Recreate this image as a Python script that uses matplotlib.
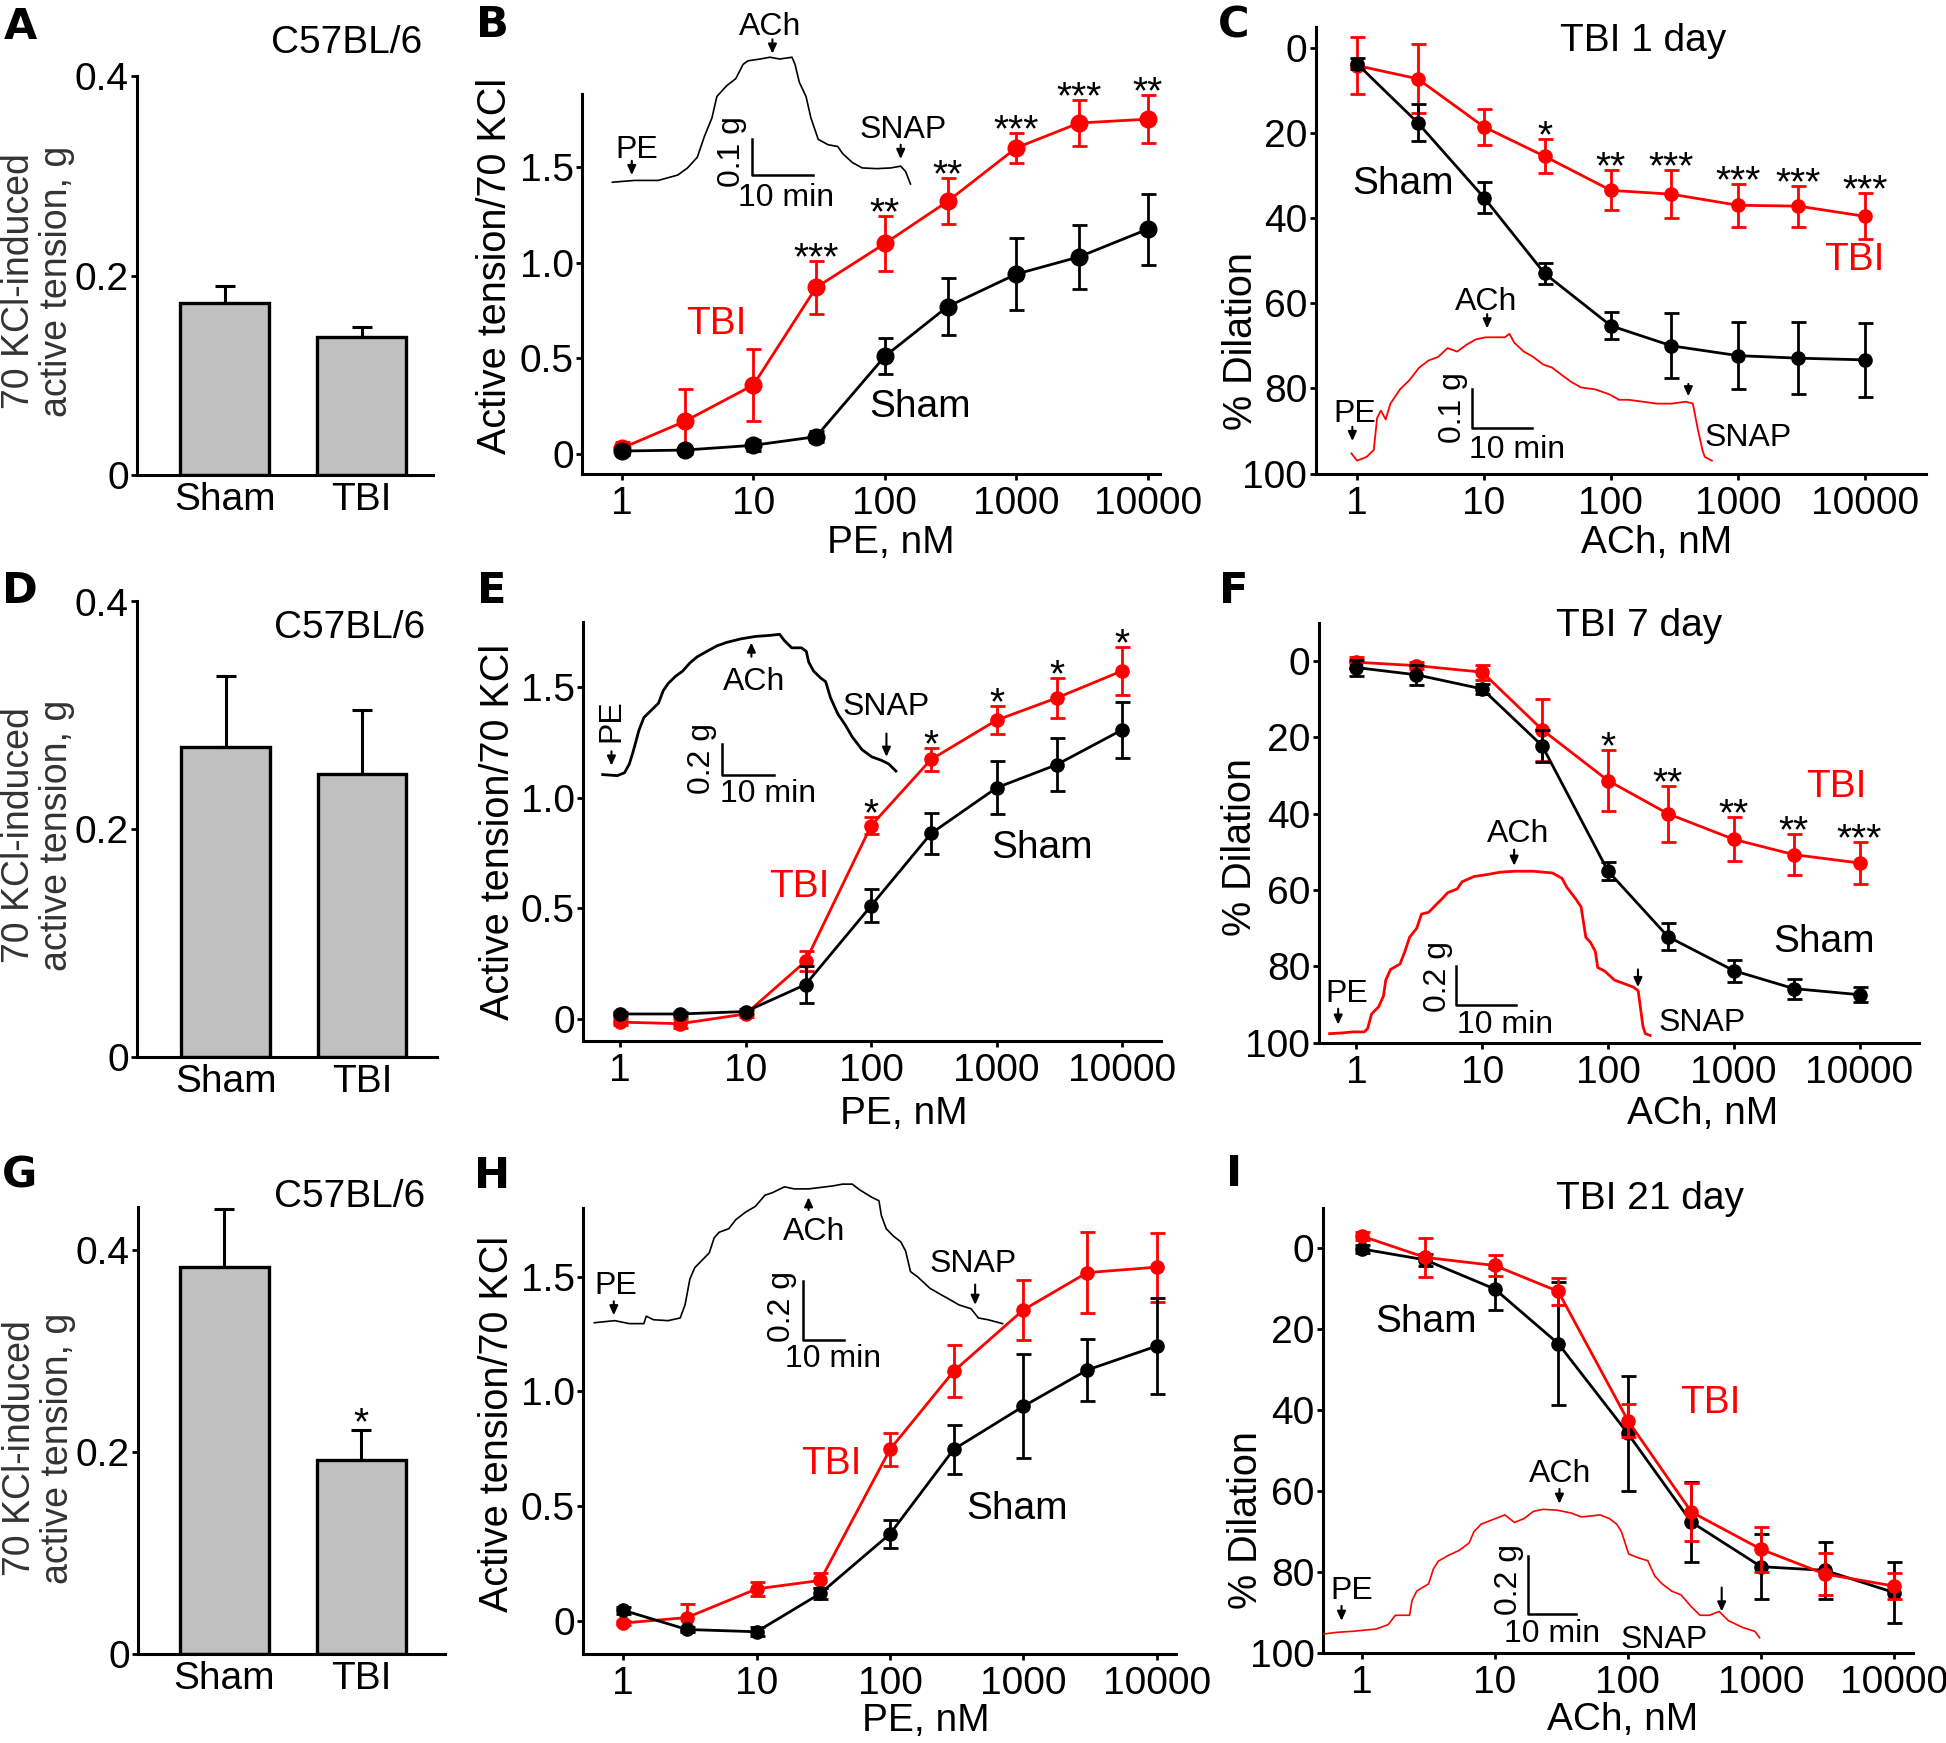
import matplotlib
matplotlib.use("Agg")
import matplotlib.pyplot as plt
import matplotlib.transforms as mtransforms

plt.rcParams['font.family'] = ['Liberation Sans', 'DejaVu Sans']

W, H = 1946, 1743
fig = plt.figure(figsize=(W / 100, H / 100), dpi=100)
# transform for placing things in reference pixel coords (y down)
PX = mtransforms.Affine2D().scale(1 / W, -1 / H).translate(0, 1) + fig.transFigure

FS = 28      # main text size
FS_IN = 23   # inset recording labels
FS_ST = 28   # significance stars

# ---------------- data ----------------
groups = ['Sham', 'TBI']
a_vals, a_err = [0.1725, 0.139], [0.0175, 0.010]
d_vals, d_err = [0.272, 0.249], [0.063, 0.056]
g_vals, g_err = [0.383, 0.192], [0.058, 0.030]

conc = [1, 3, 10, 30, 100, 300, 1000, 3000, 10000]

b_tbi = [0.03, 0.17, 0.36, 0.87, 1.10, 1.32, 1.60, 1.73, 1.75]
b_tbi_err = [0.03, 0.17, 0.19, 0.14, 0.145, 0.12, 0.08, 0.12, 0.125]
b_sham = [0.015, 0.02, 0.045, 0.09, 0.51, 0.77, 0.94, 1.03, 1.175]
b_sham_err = [0.02, 0.01, 0.03, 0.03, 0.094, 0.148, 0.19, 0.168, 0.185]
b_stars = ['', '', '', '***', '**', '**', '***', '***', '**']

c_tbi = [4.2, 7.3, 18.6, 25.5, 33.5, 34.4, 37.0, 37.2, 39.6]
c_tbi_err = [6.7, 8.1, 4.2, 4.0, 4.7, 5.6, 5.0, 4.8, 5.4]
c_sham = [3.8, 17.6, 35.2, 53.0, 65.3, 70.0, 72.3, 72.9, 73.3]
c_sham_err = [1.3, 4.3, 3.6, 2.5, 3.2, 7.6, 7.8, 8.4, 8.7]
c_stars = ['', '', '', '*', '**', '***', '***', '***', '***']

e_tbi = [-0.016, -0.023, 0.021, 0.259, 0.874, 1.173, 1.351, 1.451, 1.574]
e_tbi_err = [0.015, 0.02, 0.015, 0.045, 0.04, 0.054, 0.065, 0.09, 0.11]
e_sham = [0.021, 0.021, 0.032, 0.154, 0.511, 0.838, 1.045, 1.149, 1.307]
e_sham_err = [0.01, 0.01, 0.01, 0.085, 0.076, 0.094, 0.12, 0.12, 0.127]
e_stars = ['', '', '', '', '*', '*', '*', '*', '*']

f_tbi = [0.3, 1.2, 2.9, 18.0, 31.3, 40.0, 46.7, 50.7, 52.9]
f_tbi_err = [1.4, 1.0, 2.0, 8.1, 8.1, 7.3, 5.8, 5.4, 5.4]
f_sham = [1.7, 3.6, 7.3, 22.2, 55.0, 72.2, 81.1, 85.8, 87.4]
f_sham_err = [2.1, 2.6, 1.2, 4.2, 2.4, 3.5, 2.9, 2.6, 1.9]
f_stars = ['', '', '', '', '*', '**', '**', '**', '***']

h_tbi = [-0.011, 0.013, 0.138, 0.175, 0.747, 1.088, 1.356, 1.518, 1.542]
h_tbi_err = [0.01, 0.057, 0.03, 0.033, 0.073, 0.113, 0.131, 0.178, 0.15]
h_sham = [0.045, -0.039, -0.049, 0.118, 0.378, 0.747, 0.935, 1.093, 1.198]
h_sham_err = [0.015, 0.01, 0.02, 0.025, 0.06, 0.107, 0.227, 0.137, 0.208]
h_stars = [''] * 9

i_tbi = [-3.0, 2.3, 4.3, 10.7, 42.6, 65.2, 74.4, 80.5, 83.5]
i_tbi_err = [1.0, 4.9, 2.7, 3.4, 4.0, 7.2, 5.6, 5.2, 3.2]
i_sham = [0.2, 2.9, 10.1, 23.6, 45.8, 67.7, 78.7, 79.6, 85.1]
i_sham_err = [1.0, 1.5, 5.2, 15.2, 14.2, 9.8, 8.0, 7.1, 7.6]
i_stars = [''] * 9

# example tension recordings (time in min, tension in g)
b_tr_t = [0, 3.6, 7.5, 10.7, 12.3, 13.9, 15.1, 16.3, 17.1, 18.7, 20.2, 21.4, 22.2, 24.2, 25.8, 27.4,
          29.4, 29.9, 30.6, 31.7, 32.5, 33.7, 35.3, 36.9, 37.7, 39.3, 40.9, 43.3, 45.6, 47.2, 48.0, 48.8]
b_tr_g = [0.005, 0.010, 0.010, 0.025, 0.045, 0.075, 0.135, 0.185, 0.245, 0.275, 0.295, 0.335, 0.345,
          0.350, 0.355, 0.350, 0.355, 0.335, 0.285, 0.245, 0.185, 0.125, 0.110, 0.105, 0.085, 0.060,
          0.045, 0.043, 0.045, 0.050, 0.035, 0.000]

c_tr_t = [0, 0.96, 2.56, 3.76, 4.32, 4.96, 5.76, 6.56, 8.16, 9.76, 11.36, 12.96, 14.56, 16.16, 17.76,
          19.36, 20.96, 22.56, 24.16, 25.76, 26.56, 27.36, 28.96, 30.56, 32.16, 33.76, 35.36, 36.96,
          38.56, 40.96, 43.36, 44.96, 46.56, 48.96, 51.36, 53.76, 56.16, 57.36, 58.16, 58.96, 59.36, 60.56]
c_tr_g = [0.028, 0.009, 0.019, 0.037, 0.120, 0.139, 0.116, 0.157, 0.194, 0.218, 0.250, 0.269, 0.278,
          0.301, 0.292, 0.310, 0.324, 0.329, 0.329, 0.329, 0.338, 0.315, 0.292, 0.278, 0.259, 0.250,
          0.231, 0.213, 0.199, 0.194, 0.181, 0.167, 0.167, 0.162, 0.157, 0.157, 0.162, 0.157, 0.093,
          0.037, 0.019, 0.009]

e_tr_t = [0, 2.78, 4.17, 5.09, 5.83, 6.94, 7.87, 9.26, 10.65, 11.57, 12.5, 13.89, 15.28, 16.67, 18.06,
          19.91, 21.76, 23.61, 26.39, 29.17, 31.94, 33.8, 34.72, 36.11, 37.96, 38.89, 39.35, 40.28,
          41.67, 42.59, 43.52, 44.91, 46.3, 47.69, 49.54, 51.39, 53.24, 54.63, 56.02]
e_tr_g = [0.012, 0.005, 0.024, 0.082, 0.165, 0.306, 0.388, 0.435, 0.482, 0.565, 0.612, 0.659, 0.694,
          0.748, 0.788, 0.824, 0.859, 0.882, 0.906, 0.922, 0.929, 0.936, 0.894, 0.847, 0.847, 0.824,
          0.753, 0.694, 0.647, 0.624, 0.518, 0.412, 0.341, 0.259, 0.176, 0.129, 0.106, 0.082, 0.035]

f_tr_t = [0, 2.24, 3.84, 5.84, 6.4, 7.04, 8.24, 9.04, 9.44, 10.24, 11.84, 12.64, 13.44, 14.64, 15.44,
          16.64, 17.84, 19.04, 19.84, 21.44, 22.24, 24.24, 26.24, 28.64, 31.04, 34.24, 37.44, 39.04,
          39.84, 41.44, 42.24, 43.04, 43.84, 44.64, 45.04, 46.24, 47.84, 49.44, 51.04, 51.84, 52.24,
          52.64, 53.04, 53.84]
f_tr_g = [0.018, 0.022, 0.027, 0.027, 0.045, 0.118, 0.155, 0.209, 0.291, 0.345, 0.373, 0.436, 0.509,
          0.555, 0.627, 0.636, 0.673, 0.709, 0.736, 0.755, 0.791, 0.818, 0.827, 0.840, 0.845, 0.845,
          0.836, 0.809, 0.764, 0.700, 0.664, 0.509, 0.482, 0.436, 0.355, 0.336, 0.291, 0.273, 0.255,
          0.236, 0.145, 0.055, 0.018, 0.009]

h_tr_t = [0, 5.0, 8.57, 12.14, 12.74, 14.52, 18.1, 21.07, 22.26, 23.45, 24.64, 26.43, 28.21, 29.4,
          30.6, 32.98, 34.76, 37.14, 39.52, 41.9, 43.69, 46.67, 49.05, 52.62, 55.0, 58.57, 60.95, 63.33,
          65.12, 68.1, 69.88, 70.48, 71.67, 73.45, 75.24, 76.43, 77.62, 79.4, 82.38, 84.76, 87.14,
          89.52, 92.5, 94.29, 96.67, 100.24]
h_tr_g = [0.009, 0.016, 0.006, 0.006, 0.031, 0.019, 0.016, 0.025, 0.069, 0.156, 0.194, 0.219, 0.244,
          0.294, 0.313, 0.325, 0.356, 0.381, 0.400, 0.438, 0.446, 0.466, 0.459, 0.459, 0.463, 0.469,
          0.475, 0.475, 0.456, 0.431, 0.419, 0.369, 0.325, 0.300, 0.281, 0.250, 0.181, 0.163, 0.125,
          0.106, 0.088, 0.069, 0.056, 0.025, 0.019, 0.006]

i_tr_t = [0, 2.94, 5.88, 8.33, 10.78, 13.24, 14.71, 17.65, 18.14, 19.12, 21.57, 22.55, 23.53, 25.49,
          27.94, 29.9, 30.88, 32.35, 35.29, 37.25, 39.22, 41.18, 43.14, 45.1, 48.04, 50.98, 52.94,
          54.9, 56.86, 58.82, 60.29, 61.27, 62.75, 64.71, 66.67, 68.14, 69.61, 71.57, 73.53, 75.49,
          77.45, 79.41, 81.37, 83.33, 86.27, 88.73, 89.71]
i_tr_g = [0.019, 0.025, 0.028, 0.032, 0.036, 0.051, 0.083, 0.083, 0.134, 0.166, 0.191, 0.242, 0.268,
          0.287, 0.306, 0.331, 0.369, 0.395, 0.414, 0.427, 0.401, 0.414, 0.439, 0.446, 0.443, 0.433,
          0.420, 0.423, 0.427, 0.414, 0.395, 0.369, 0.293, 0.280, 0.270, 0.217, 0.191, 0.166, 0.153,
          0.115, 0.083, 0.083, 0.096, 0.064, 0.041, 0.028, 0.006]


def box(l, t, r, b):
    return [l / W, 1 - b / H, (r - l) / W, (b - t) / H]


def letter(s, x, y):
    fig.text(x, y, s, transform=PX, fontsize=31, fontweight='bold', family='DejaVu Sans',
             ha='center', va='center')


def style_axes(ax):
    for s in ['top', 'right']:
        ax.spines[s].set_visible(False)
    for s in ['left', 'bottom']:
        ax.spines[s].set_linewidth(2.2)


def bar_panel(rect, vals, errs, ylim, xlim, strain_xy, ylab_xy, star=False):
    ax = fig.add_axes(box(*rect))
    ax.bar([0, 1], vals, width=0.65, color='#c0c0c0', edgecolor='k', linewidth=2.4, zorder=2)
    ax.errorbar([0, 1], vals, yerr=[[0, 0], errs], fmt='none', ecolor='k',
                elinewidth=2.2, capsize=7, capthick=2.2, zorder=1)
    ax.set_xlim(xlim)
    ax.set_ylim(ylim)
    style_axes(ax)
    ax.set_xticks([0, 1], groups, fontsize=FS)
    ax.set_yticks([0, 0.2, 0.4], ['0', '0.2', '0.4'], fontsize=FS)
    ax.tick_params(axis='x', length=0, pad=5)
    ax.tick_params(axis='y', length=4, width=2, pad=2)
    ax.set_ylabel('70 KCl-induced\nactive tension, g', fontsize=27, color='#333333',
                  linespacing=1.05, va='center', ha='center')
    ax.yaxis.set_label_coords(*ylab_xy, transform=PX)
    ax.text(*strain_xy, 'C57BL/6', transform=PX, fontsize=FS, ha='center', va='center')
    if star:
        ax.annotate('*', (1, vals[1] + errs[1]), xytext=(0, -3), textcoords='offset points',
                    ha='center', va='baseline', fontsize=FS_ST)
    return ax


def line_panel(rect, xlim, ylim, yticks, tbi, tbi_err, sham, sham_err, stars, ms,
               xlab, xlab_xy, ylab, ylab_xy, red_top=False):
    ax = fig.add_axes(box(*rect))
    inv = ylim[0] > ylim[1]
    kw = dict(marker='o', ms=ms, lw=2, elinewidth=2, capsize=5.4, capthick=2, clip_on=False)
    zr, zk = (4, 3) if red_top else (3, 4)
    ax.errorbar(conc, tbi, yerr=tbi_err, color='#ff0000', zorder=zr, **kw)
    ax.errorbar(conc, sham, yerr=sham_err, color='k', zorder=zk, **kw)
    ax.set_xscale('log')
    ax.set_xlim(xlim)
    ax.set_ylim(ylim)
    style_axes(ax)
    ax.set_xticks(conc[::2], ['1', '10', '100', '1000', '10000'], fontsize=FS)
    ax.minorticks_off()
    ax.set_yticks(yticks, [('%g' % v) if v != 1 else '1.0' for v in yticks], fontsize=FS)
    ax.tick_params(axis='x', length=4, width=2, pad=5)
    ax.tick_params(axis='y', length=4, width=2, pad=2)
    ax.set_xlabel(xlab, fontsize=FS, va='center')
    ax.xaxis.set_label_coords(*xlab_xy, transform=PX)
    ax.set_ylabel(ylab, fontsize=28.5, va='center', ha='center')
    ax.yaxis.set_label_coords(*ylab_xy, transform=PX)
    for x, m, e, s in zip(conc, tbi, tbi_err, stars):
        if s:
            top = m - e if inv else m + e
            ax.annotate(s, (x, top), xytext=(0, -6), textcoords='offset points', ha='center',
                        va='baseline', fontsize=FS_ST, annotation_clip=False)
    return ax


def label(ax, s, x, y, color='k'):
    ax.text(x, y, s, transform=PX, fontsize=FS, color=color, ha='center', va='center')


def trace(L, B, ppm, ppg, t, g, color, lw):
    tmax, gmax = max(t), max(g)
    ia = fig.add_axes([L / W, 1 - B / H, tmax * ppm / W, gmax * ppg / H])
    ia.set_xlim(0, tmax)
    ia.set_ylim(0, gmax)
    ia.axis('off')
    ia.plot(t, g, color=color, lw=lw, clip_on=False)
    return ia


def arrow(ia, t, g_tail, g_tip):
    ia.annotate('', xy=(t, g_tip), xytext=(t, g_tail), annotation_clip=False,
                arrowprops=dict(arrowstyle='-|>,head_width=0.25,head_length=0.55', color='k',
                                lw=1.5, shrinkA=0, shrinkB=0))


def itext(ia, x, y, s, rot=0):
    ia.text(x, y, s, fontsize=FS_IN, ha='center', va='center', rotation=rot, clip_on=False)


def scalebar(ia, t0, g0, glen, gtxt, gxy, txy):
    ia.plot([t0, t0, t0 + 10], [g0 + glen, g0, g0], color='k', lw=1.8, clip_on=False)
    itext(ia, *gxy, gtxt, rot=90)
    itext(ia, *txy, '10 min')


# ---------------- bar panels ----------------
bar_panel((137, 76.3, 433, 475.3), a_vals, a_err, (0, 0.4), (-0.64, 1.52), (347, 43), (38, 281))
bar_panel((137, 601.5, 437, 1057.4), d_vals, d_err, (0, 0.4), (-0.65, 1.55), (350, 628), (38, 835))
bar_panel((138, 1206.8, 445, 1654), g_vals, g_err, (0, 0.443), (-0.63, 1.61), (350, 1197),
          (39, 1448), star=True)

pe_ticks = [0, 0.5, 1.0, 1.5]
dil_ticks = [0, 20, 40, 60, 80, 100]

# ---------------- B ----------------
axB = line_panel((582.3, 94.3, 1159.6, 473.6), (0.5, 12300), (-0.103, 1.88), pe_ticks, b_tbi,
                 b_tbi_err, b_sham, b_sham_err, b_stars, 12, 'PE, nM', (890.6, 543),
                 'Active tension/70 KCl', (495, 266))
label(axB, 'TBI', 716, 324, '#ff0000')
label(axB, 'Sham', 920, 407)
ia = trace(612.4, 184.0, 6.108, 357.1, b_tr_t, b_tr_g, 'k', 1.2)
arrow(ia, 3.17, 0.065, 0.025); itext(ia, 3.97, 0.095, 'PE')
arrow(ia, 26.2, 0.405, 0.365); itext(ia, 25.8, 0.44, 'ACh')
arrow(ia, 47.2, 0.11, 0.07); itext(ia, 47.6, 0.15, 'SNAP')
scalebar(ia, 22.8, 0.025, 0.1, '0.1 g', (19.6, 0.09), (28.4, -0.04))

# ---------------- C ----------------
axC = line_panel((1315.7, 26.8, 1925.7, 473.6), (0.472, 30200), (100, -4.9), dil_ticks, c_tbi,
                 c_tbi_err, c_sham, c_sham_err, c_stars, 9.5, 'ACh, nM', (1657, 543),
                 '% Dilation', (1241, 341))
label(axC, 'TBI 1 day', 1643, 41)
label(axC, 'Sham', 1403, 184)
label(axC, 'TBI', 1854, 260, '#ff0000')
ia = trace(1351.4, 464.2, 5.953, 385.7, c_tr_t, c_tr_g, '#ff0000', 1.3)
arrow(ia, 0.16, 0.097, 0.060); itext(ia, 0.5, 0.13, 'PE')
arrow(ia, 22.8, 0.389, 0.352); itext(ia, 22.6, 0.421, 'ACh')
arrow(ia, 56.6, 0.208, 0.176); itext(ia, 66.6, 0.069, 'SNAP')
scalebar(ia, 20.3, 0.094, 0.1, '0.1 g', (17.0, 0.148), (27.8, 0.037))

# ---------------- E ----------------
axE = line_panel((583, 621.8, 1161, 1040.7), (0.505, 20400), (-0.1, 1.796), pe_ticks, e_tbi,
                 e_tbi_err, e_sham, e_sham_err, e_stars, 9.5, 'PE, nM', (904, 1114),
                 'Active tension/70 KCl', (498, 832))
label(axE, 'TBI', 799, 887, '#ff0000')
label(axE, 'Sham', 1042, 848)
ia = trace(602.7, 776.4, 5.235, 151.8, e_tr_t, e_tr_g, 'k', 2.0)
arrow(ia, 1.67, 0.165, 0.071); itext(ia, 1.57, 0.365, 'PE', rot=90)
arrow(ia, 28.4, 0.788, 0.882); itext(ia, 29.0, 0.624, 'ACh')
arrow(ia, 54.2, 0.282, 0.129); itext(ia, 54.2, 0.459, 'SNAP')
scalebar(ia, 22.7, 0.012, 0.2, '0.2 g', (19.0, 0.118), (31.5, -0.118))

# ---------------- F ----------------
axF = line_panel((1318.6, 622.9, 1918.6, 1042.8), (0.5, 29500), (100, -10), dil_ticks, f_tbi,
                 f_tbi_err, f_sham, f_sham_err, f_stars, 9.5, 'ACh, nM', (1703, 1114),
                 '% Dilation', (1240, 847))
label(axF, 'TBI 7 day', 1639, 626)
label(axF, 'TBI', 1836, 787, '#ff0000')
label(axF, 'Sham', 1824, 942)
ia = trace(1329.6, 1037.2, 5.953, 196.4, f_tr_t, f_tr_g, '#ff0000', 2.0)
arrow(ia, 1.44, 0.145, 0.064); itext(ia, 2.88, 0.218, 'PE')
arrow(ia, 31.0, 0.955, 0.873); itext(ia, 31.7, 1.036, 'ACh')
arrow(ia, 51.8, 0.345, 0.255); itext(ia, 62.6, 0.073, 'SNAP')
scalebar(ia, 21.3, 0.164, 0.2, '0.2 g', (18.2, 0.309), (29.4, 0.064))

# ---------------- H ----------------
axH = line_panel((583, 1208, 1175.6, 1654), (0.5, 13800), (-0.146, 1.80), pe_ticks, h_tbi,
                 h_tbi_err, h_sham, h_sham_err, h_stars, 9.5, 'PE, nM', (925.5, 1721),
                 'Active tension/70 KCl', (496.5, 1424))
label(axH, 'TBI', 831, 1464, '#ff0000')
label(axH, 'Sham', 1017, 1509)
ia = trace(594.4, 1325.4, 4.072, 297.4, h_tr_t, h_tr_g, 'k', 1.2)
arrow(ia, 4.76, 0.081, 0.034); itext(ia, 5.36, 0.131, 'PE')
arrow(ia, 52.6, 0.388, 0.431); itext(ia, 54.0, 0.3125, 'ACh')
arrow(ia, 93.5, 0.1375, 0.069); itext(ia, 93.1, 0.206, 'SNAP')
scalebar(ia, 51.2, -0.05, 0.2, '0.2 g', (46.1, 0.0625), (58.6, -0.1125))

# ---------------- I ----------------
axI = line_panel((1322.9, 1208, 1912.9, 1652.9), (0.513, 13800), (100, -9.9), dil_ticks, i_tbi,
                 i_tbi_err, i_sham, i_sham_err, i_stars, 9.5, 'ACh, nM', (1623, 1720),
                 '% Dilation', (1246, 1520), red_top=True)
label(axI, 'TBI 21 day', 1650, 1199)
label(axI, 'Sham', 1426, 1322)
label(axI, 'TBI', 1710, 1403, '#ff0000')
ia = trace(1323.9, 1639.5, 4.857, 291.9, i_tr_t, i_tr_g, '#ff0000', 1.2)
arrow(ia, 3.63, 0.115, 0.064); itext(ia, 5.69, 0.166, 'PE')
arrow(ia, 48.5, 0.516, 0.465); itext(ia, 48.7, 0.567, 'ACh')
arrow(ia, 81.9, 0.178, 0.096); itext(ia, 70.1, 0.0, 'SNAP')
scalebar(ia, 42.0, 0.087, 0.2, '0.2 g', (38.2, 0.204), (46.9, 0.019))

# panel letters
for s, x, y in [('A', 20, 27), ('B', 492, 25), ('C', 1234, 26),
                ('D', 20, 591), ('E', 492, 591), ('F', 1234, 591),
                ('G', 20, 1176), ('H', 492, 1176), ('I', 1234, 1174)]:
    letter(s, x, y)

fig.savefig('out.png', dpi=100)
